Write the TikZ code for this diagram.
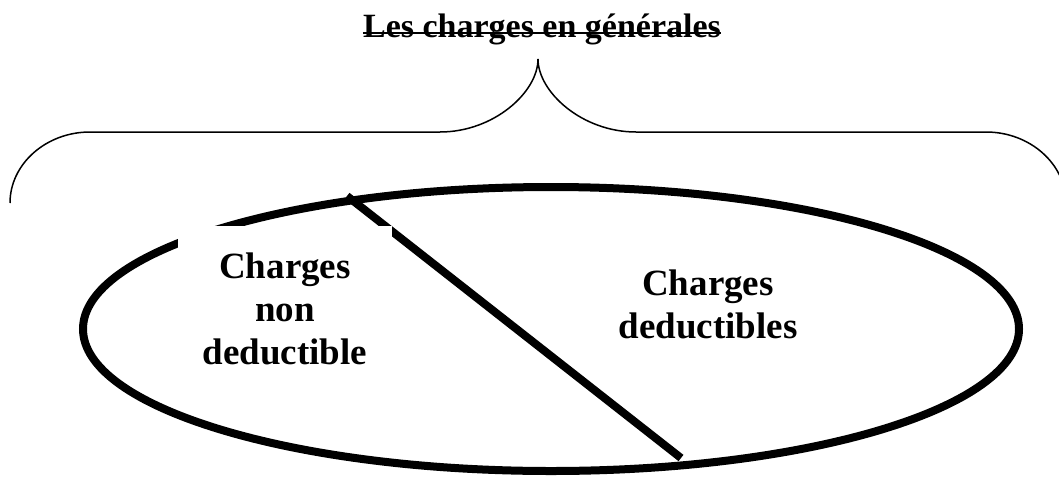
\documentclass[tikz,border=0pt]{standalone}
\usepackage{fontspec}
\setmainfont{Liberation Serif}
\begin{document}
\begin{tikzpicture}[x=1pt,y=-1pt,
  thickline/.style={line width=8pt, line cap=butt},
  bracestyle/.style={line width=1.5pt},
  bigtext/.style={font=\fontsize{37}{43}\selectfont\bfseries, align=center, inner sep=0pt},
  titletext/.style={font=\fontsize{34}{40}\selectfont\bfseries, inner sep=0pt}]
\useasboundingbox (0,0) rectangle (1059,477);
% ellipse
\draw[thickline] (551,329) ellipse [x radius=468, y radius=142];
% dividing line
\coordinate (dtop) at (347,196);
\coordinate (dbot) at (681,458);
\draw[thickline] (dtop) -- (dbot);
% left label in white box
\node[bigtext, fill=white, minimum width=214pt, minimum height=166pt] (nd) at (285,309) {Charges\\non\\deductible};
% right label
\node[bigtext] (dd) at (708,304) {Charges\\deductibles};
% title
\node[titletext, anchor=base] (title) at (542,37) {Les charges en générales};
\draw[line width=2pt] ([yshift=4pt]title.base west) -- ([yshift=4pt]title.base east);
% brace
\coordinate (bl) at (10,203);
\coordinate (br) at (1066,203);
\coordinate (tip) at (538,59);
\draw[bracestyle] (bl) .. controls (10,164) and (46,132) .. (90,132)
  -- (440,132) .. controls (494,132) and (538,92) .. (tip)
  .. controls (538,92) and (582,132) .. (636,132)
  -- (986,132) .. controls (1030,132) and (1066,164) .. (br);
\end{tikzpicture}
\end{document}
